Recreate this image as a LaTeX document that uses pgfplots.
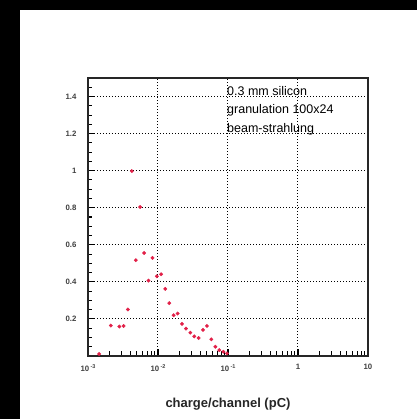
\documentclass[border=0pt]{standalone}
\usepackage{fontspec}
\setmainfont{Liberation Sans}
\usepackage{pgfplots}
\pgfplotsset{compat=1.18}
\definecolor{ptred}{RGB}{226,32,72}

% charge/channel (pC) vs entries
\pgfplotstableread{
q        n
1.44e-3  0.011
2.12e-3  0.164
2.80e-3  0.159
3.22e-3  0.162
3.72e-3  0.251
4.22e-3  0.998
4.82e-3  0.517
5.56e-3  0.804
6.34e-3  0.556
7.31e-3  0.407
8.34e-3  0.529
9.62e-3  0.430
1.11e-2  0.441
1.27e-2  0.362
1.45e-2  0.285
1.67e-2  0.220
1.91e-2  0.229
2.20e-2  0.173
2.51e-2  0.148
2.90e-2  0.126
3.30e-2  0.106
3.81e-2  0.097
4.39e-2  0.141
5.01e-2  0.162
5.78e-2  0.090
6.59e-2  0.050
7.50e-2  0.032
8.57e-2  0.023
9.68e-2  0.014
}\spectrum

\begin{document}
\begin{tikzpicture}[x=1pt,y=1pt]
\useasboundingbox (0,0) rectangle (417,419);
\fill[white] (0,0) rectangle (417,419);
\fill[black] (0,0) rectangle (20,419);
\fill[black] (0,409) rectangle (417,419);
\begin{axis}[
    at={(88pt,63pt)}, anchor=south west,
    scale only axis, width=280pt, height=278pt,
    xmode=log, xmin=1e-3, xmax=10,
    ymin=0, ymax=1.5,
    xtick={1e-3,1e-2,1e-1,1,10},
    xticklabels={10\,\raisebox{0.8ex}{\fontsize{5.5}{6}\selectfont -3},
                 10\,\raisebox{0.8ex}{\fontsize{5.5}{6}\selectfont -2},
                 10\,\raisebox{0.8ex}{\fontsize{5.5}{6}\selectfont -1},
                 1, 10},
    minor xtick={2e-3,3e-3,4e-3,5e-3,6e-3,7e-3,8e-3,9e-3,
                 2e-2,3e-2,4e-2,5e-2,6e-2,7e-2,8e-2,9e-2,
                 0.2,0.3,0.4,0.5,0.6,0.7,0.8,0.9,
                 2,3,4,5,6,7,8,9},
    ytick={0.2,0.4,0.6,0.8,1,1.2,1.4},
    yticklabels={0.2,0.4,0.6,0.8,1,1.2,1.4},
    minor ytick={0.05,0.1,0.15,0.25,0.3,0.35,0.45,0.5,0.55,0.65,0.7,0.75,
                 0.85,0.9,0.95,1.05,1.1,1.15,1.25,1.3,1.35,1.45},
    xtick pos=bottom, ytick pos=left,
    tick align=inside,
    major tick length=7pt, minor tick length=4.5pt,
    every tick/.style={black, line width=1.1pt},
    tick label style={font=\fontsize{7.8}{9}\selectfont\bfseries, text=black!75},
    yticklabel style={xshift=-8pt},
    xticklabel style={yshift=-5pt},
    grid=major,
    major grid style={dash pattern=on 1pt off 2pt, black, line width=1pt},
    axis line style={black!85, line width=1.3pt},
    clip=false,
]
\addplot[only marks, mark=*, mark size=1.7pt, color=ptred] table[x=q, y=n] {\spectrum};
\end{axis}
\node[anchor=north west, align=left, inner sep=0pt,
      font=\fontsize{12.5}{18.5}\selectfont, text=black] at (227,333)
  {0.3 mm silicon\\granulation 100x24\\beam-strahlung};
\node[font=\fontsize{13}{15}\selectfont\bfseries, text=black!85] at (228,15)
  {charge/channel (pC)};
\end{tikzpicture}
\end{document}
